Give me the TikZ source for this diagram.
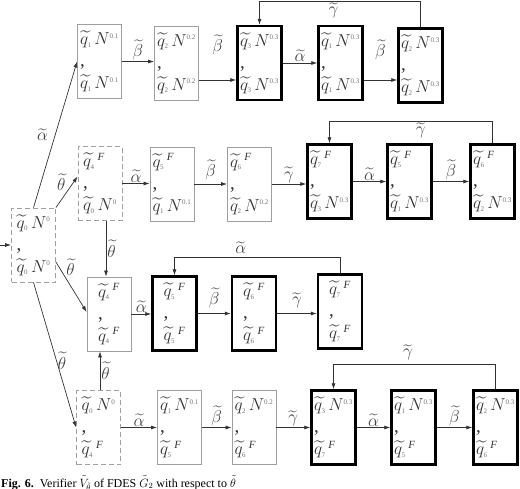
\documentclass[tikz,border=0pt]{standalone}
\usepackage{amsmath,amssymb}
\usepackage{fontspec}
\setmainfont{Liberation Serif}
\usetikzlibrary{positioning,calc,arrows.meta}

\newcommand{\idx}[1]{\mbox{\fontsize{7}{7}\selectfont\color{black!55}#1}}
\newcommand{\tq}[1]{\widetilde{q}_{\idx{#1}}\,}
\newcommand{\Nx}[1]{N^{\idx{#1}}}
\newcommand{\Fx}{{}^{\mbox{\fontsize{11}{11}\selectfont\itshape F}}}
\newcommand{\pair}[2]{$#1$\\[3pt]{,}\\[3pt]$#2$}

\tikzset{
  st/.style={rectangle,draw=gray!75,line width=0.8pt,minimum width=44pt,minimum height=74pt,
    inner sep=1.5pt,align=left,font=\fontsize{19}{19}\selectfont,text=black!80},
  fin/.style={st,draw=black,line width=2.4pt},
  amb/.style={st,dash pattern=on 5pt off 3pt},
  arr/.style={-{Latex[length=6pt,width=4pt]},draw=black!80,line width=0.7pt},
  lbl/.style={font=\fontsize{16}{18}\selectfont,text=black!75,inner sep=1pt}
}

\begin{document}
\begin{tikzpicture}[x=1pt,y=-1pt]
\useasboundingbox (0,0) rectangle (520,488);

% states
\node[amb] (b0) at (33.5,245) {\pair{\tq0\Nx0}{\tq0\Nx0}};
\node[st]  (a1) at (99.5,61.5) {\pair{\tq1\Nx{0.1}}{\tq1\Nx{0.1}}};
\node[st]  (a2) at (176.5,63) {\pair{\tq2\Nx{0.2}}{\tq2\Nx{0.2}}};
\node[fin] (a3) at (259.5,63) {\pair{\tq3\Nx{0.3}}{\tq3\Nx{0.3}}};
\node[fin] (a4) at (340.5,63) {\pair{\tq1\Nx{0.3}}{\tq1\Nx{0.3}}};
\node[fin] (a5) at (420.5,65.5) {\pair{\tq2\Nx{0.3}}{\tq2\Nx{0.3}}};

\node[amb] (b1) at (100,183.5) {\pair{\tq4\Fx}{\tq0\Nx0}};
\node[st]  (b2) at (172,184) {\pair{\tq5\Fx}{\tq1\Nx{0.1}}};
\node[st]  (b3) at (249.5,184) {\pair{\tq6\Fx}{\tq2\Nx{0.2}}};
\node[fin] (b4) at (329.5,181.5) {\pair{\tq7\Fx}{\tq3\Nx{0.3}}};
\node[fin] (b5) at (409.5,181.5) {\pair{\tq5\Fx}{\tq1\Nx{0.3}}};
\node[fin] (b6) at (492.5,181.5) {\pair{\tq6\Fx}{\tq2\Nx{0.3}}};

\node[st]  (c1) at (109,314) {\pair{\tq4\Fx}{\tq4\Fx}};
\node[fin] (c2) at (174.5,313.5) {\pair{\tq5\Fx}{\tq5\Fx}};
\node[fin] (c3) at (254,313.5) {\pair{\tq6\Fx}{\tq6\Fx}};
\node[fin] (c4) at (340,311.5) {\pair{\tq7\Fx}{\tq7\Fx}};

\node[amb] (d1) at (98.5,427.5) {\pair{\tq0\Nx0}{\tq4\Fx}};
\node[st]  (d2) at (179.5,427.5) {\pair{\tq1\Nx{0.1}}{\tq5\Fx}};
\node[st]  (d3) at (254,427.5) {\pair{\tq2\Nx{0.2}}{\tq6\Fx}};
\node[fin] (d4) at (333.5,427.5) {\pair{\tq3\Nx{0.3}}{\tq7\Fx}};
\node[fin] (d5) at (413.5,427.5) {\pair{\tq1\Nx{0.3}}{\tq5\Fx}};
\node[fin] (d6) at (495.5,427.5) {\pair{\tq2\Nx{0.3}}{\tq6\Fx}};

% initial arrow
\coordinate (init) at (0,245);
\draw[arr] (init) -- (b0.west);

% from the initial state
\draw[arr] (b0.north) -- node[lbl,left=6pt]{$\widetilde{\alpha}$} (a1.west);
\draw[arr] (b0.north east) -- node[lbl,above left]{$\widetilde{\theta}$} ([yshift=7pt]b1.west);
\draw[arr] ([yshift=-17pt]b0.east) -- node[lbl,above right,pos=0.3]{$\widetilde{\theta}$} ([yshift=2pt]c1.west);
\draw[arr] (b0.south) -- node[lbl,right,pos=0.54]{$\widetilde{\theta}$} (d1.west);
\draw[arr] ([xshift=6pt]b1.south) -- node[lbl,right]{$\widetilde{\theta}$} ([xshift=6pt]b1.south |- c1.north);
\draw[arr] ([xshift=1.5pt]d1.north) -- node[lbl,right]{$\widetilde{\theta}$} ([xshift=1.5pt]d1.north |- c1.south);

% row 1
\draw[arr] (a1.east) -- node[lbl,above]{$\widetilde{\beta}$} (a1.east -| a2.west);
\draw[arr] ([yshift=-17pt]a2.east) -- node[lbl,above=24pt]{$\widetilde{\beta}$} ([yshift=-17pt]a3.west);
\draw[arr] (a3.east) -- node[lbl,above]{$\widetilde{\alpha}$} (a4.west);
\draw[arr] ([yshift=-17pt]a4.east) -- node[lbl,above=19pt]{$\widetilde{\beta}$} ([yshift=-17pt]a4.east -| a5.west);
\draw[arr] (a5.north) -- ++(0,-26) -| node[lbl,pos=0.27,below]{$\widetilde{\gamma}$} (a3.north);

% row 2
\draw[arr] (b1.east) -- node[lbl,above]{$\widetilde{\alpha}$} (b1.east -| b2.west);
\draw[arr] (b2.east) -- node[lbl,above=3pt]{$\widetilde{\beta}$} (b3.west);
\draw[arr] (b3.east) -- node[lbl,above]{$\widetilde{\gamma}$} (b3.east -| b4.west);
\draw[arr] (b4.east) -- node[lbl,above]{$\widetilde{\alpha}$} (b5.west);
\draw[arr] (b5.east) -- node[lbl,above]{$\widetilde{\beta}$} (b6.west);
\draw[arr] (b6.north) -- ++(0,-22) -| node[lbl,pos=0.22,below]{$\widetilde{\gamma}$} (b4.north);

% row 3
\draw[arr] (c1.east) -- node[lbl,above]{$\widetilde{\alpha}$} (c1.east -| c2.west);
\draw[arr] (c2.east) -- node[lbl,above=4pt]{$\widetilde{\beta}$} (c3.west);
\draw[arr] (c3.east) -- node[lbl,above=4pt]{$\widetilde{\gamma}$} (c3.east -| c4.west);
\draw[arr] (c4.north) -- ++(0,-16) -| node[lbl,pos=0.3,above=2pt]{$\widetilde{\alpha}$} (c2.north);

% row 4
\draw[arr] (d1.east) -- node[lbl,above]{$\widetilde{\alpha}$} (d2.west);
\draw[arr] (d2.east) -- node[lbl,above]{$\widetilde{\beta}$} (d3.west);
\draw[arr] (d3.east) -- node[lbl,above]{$\widetilde{\gamma}$} (d4.west);
\draw[arr] (d4.east) -- node[lbl,above]{$\widetilde{\alpha}$} (d5.west);
\draw[arr] (d5.east) -- node[lbl,above]{$\widetilde{\beta}$} (d6.west);
\draw[arr] (d6.north) -- ++(0,-25) -| node[lbl,pos=0.27,above=3pt]{$\widetilde{\gamma}$} (d4.north);

% caption
\node[anchor=base west,inner sep=0pt,font=\fontsize{12}{14}\selectfont] (cap) at (1,487)
  {\textbf{Fig. 6.}\ \ Verifier $\tilde{V}_{\tilde{\theta}}$ of FDES $\tilde{G}_2$ with respect to $\tilde{\theta}$};
\end{tikzpicture}
\end{document}
